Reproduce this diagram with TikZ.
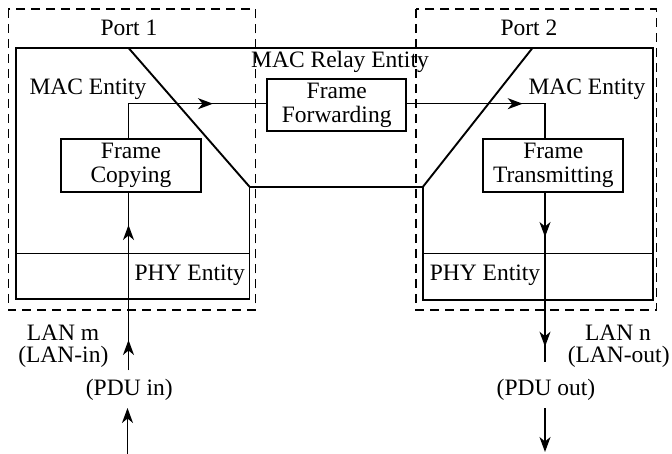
\documentclass[tikz,border=0pt]{standalone}
\usepackage{fontspec}
\setmainfont{Liberation Serif}
\usetikzlibrary{arrows.meta}
\begin{document}
\begin{tikzpicture}[x=1pt,y=-1pt,
  txt/.style={inner sep=0pt, font=\fontsize{23.5}{24}\selectfont},
  fbox/.style={draw, line width=1.9pt, inner sep=0pt, align=center, font=\fontsize{23.5}{24}\selectfont},
  port/.style={draw, line width=1.1pt, dash pattern=on 9pt off 6pt},
  wall/.style={line width=1.9pt},
  thin/.style={line width=1.1pt},
  flow/.style={line width=1.4pt},
  arr/.style={line width=1.4pt, -{Stealth[length=15pt, width=11pt, inset=4.5pt]}}]
\useasboundingbox (0,0) rectangle (672,454);
% port boxes
\draw[port] (8.3,9) rectangle (255.7,310);
\draw[port] (416,9) rectangle (656.7,310);
% outer entity outline
\draw[wall, line join=miter] (16,47.7) -- (652.7,47.7) -- (652.7,300) -- (423,300) -- (423,186.7)
  -- (249.5,186.7) -- (249.5,299) -- (16,299) -- cycle;
\draw[wall] (128.3,47.7) -- (249.5,186.7);
\draw[wall] (532.7,47.7) -- (423,186.7);
% PHY lines
\draw[thin] (16,253.3) -- (249.5,253.3);
\draw[thin] (423,253.3) -- (652.7,253.3);
% labels
\node[txt] (p1) at (129,28) {Port 1};
\node[txt] (p2) at (529,28) {Port 2};
\node[txt] (mre) at (340,61.5) {MAC Relay Entity};
\node[txt] (mac1) at (88,89.5) {MAC Entity};
\node[txt] (mac2) at (587,89.5) {MAC Entity};
\node[txt] (phy1) at (189.7,275.5) {PHY Entity};
\node[txt] (phy2) at (485,275.5) {PHY Entity};
\node[txt] (lanm) at (63,333) {LAN m};
\node[txt] (lanin) at (63.3,357) {(LAN-in)};
\node[txt] (lann) at (618,333) {LAN n};
\node[txt] (lanout) at (618.7,357) {(LAN-out)};
\node[txt] (pduin) at (129.3,390) {(PDU in)};
\node[txt] (pduout) at (546,390) {(PDU out)};
% function boxes
\node[fbox, minimum width=138.7pt, minimum height=52pt] (fwd) at (336.7,105) {Frame\\Forwarding};
\node[fbox, minimum width=140pt, minimum height=53pt] (copy) at (131,165.2) {Frame\\Copying};
\node[fbox, minimum width=140pt, minimum height=53pt] (xmit) at (553.3,165.2) {Frame\\Transmitting};
% coordinates for connectors
\coordinate (L) at (128.5,103.7);
\coordinate (A1) at (213,103.7);
\coordinate (A2) at (522.7,103.7);
\coordinate (R) at (545,103.7);
\coordinate (Ru1) at (545,237);
\coordinate (Ru2) at (545,346.7);
\coordinate (Re) at (545,361.7);
\coordinate (Rs) at (545,408);
\coordinate (Rt) at (545,452);
\coordinate (Lu1) at (128.5,225);
\coordinate (Lu2) at (128.5,340);
\coordinate (Ls) at (128.5,370);
\coordinate (Lb) at (127.5,454);
\coordinate (Lt) at (127.5,408);
% connector lines
\draw[flow] (copy.north -| L) -- (L) -- (fwd.west |- L);
\draw[flow] (fwd.east |- A2) -- (R) -- (xmit.north -| R);
\draw[flow] (xmit.south -| R) -- (Re);
\draw[flow] (Ls) -- (copy.south -| Ls);
% arrowheads along the connectors
\draw[arr] (L) -- (A1);
\draw[arr] (fwd.east |- A2) -- (A2);
\draw[arr] (xmit.south -| R) -- (Ru1);
\draw[arr] (Ru1) -- (Ru2);
\draw[arr] (Rs) -- (Rt);
\draw[arr] (Lb) -- (Lt);
\draw[arr] (Ls) -- (Lu2);
\draw[arr] (Lu2) -- (Lu1);
\end{tikzpicture}
\end{document}
